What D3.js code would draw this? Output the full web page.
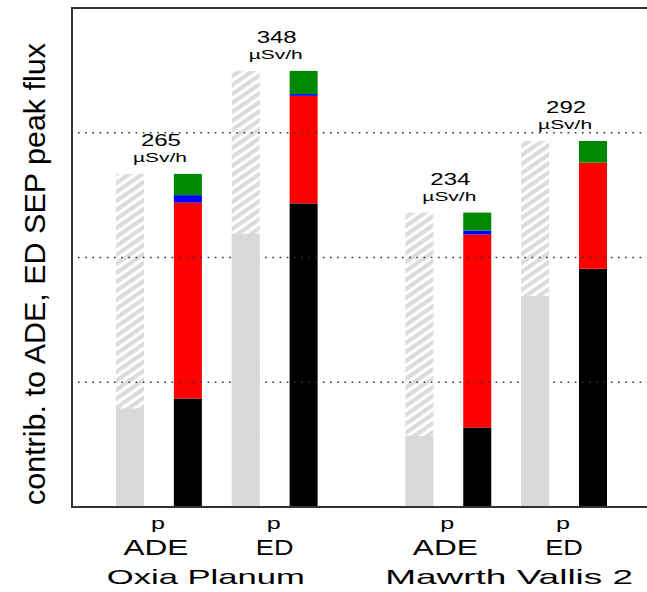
<!DOCTYPE html>
<html><head><meta charset="utf-8">
<script src="https://cdn.jsdelivr.net/npm/d3@7"></script>
<style>
body{margin:0;background:#fff}
svg{display:block}
text{font-family:"Liberation Sans",Arial,Helvetica,sans-serif;fill:#000}
</style>
</head><body>
<svg id="c" width="647" height="592"></svg>
<script>
// ---- data (µSv/h) ----
const sites = ["Oxia Planum", "Mawrth Vallis 2"];
const instruments = ["ADE", "ED"];
const particleLabel = "p";
const peakDose = [265, 348, 234, 292];          // annotated totals
const pPrimary = [79, 219, 57, 169];            // solid grey part of p bar
const pTotal = [267, 349.6, 236, 293.4];        // hatched p bar total
const blackPart = [87, 243.4, 63.8, 191];
const redPart = [157, 86.2, 154.6, 85];
const bluePart = [6, 1.4, 3.2, 0];
const greenPart = [17, 18.6, 14.4, 17.4];
const gridValues = [100, 200, 300];
const yMax = 400;
const yLabel = "contrib. to ADE, ED SEP peak flux";
const unitLabel = "\u00B5Sv/h";

// ---- layout ----
const plotLeft = 72, plotTop = 8, plotBottom = 507, plotRight = 647;
const barW = 28;
const svg = d3.select("#c");

const y = d3.scaleLinear().domain([0, yMax]).range([plotBottom, plotTop]);
const slot = d3.scaleLinear().domain([0, 8]).range([116, 579]); // left edge of slot

const cases = d3.range(4).map(i => ({
  i, site: Math.floor(i / 2), inst: i % 2,
  pSlot: Math.floor(i / 2) * 5 + (i % 2) * 2,
  black: blackPart[i], red: redPart[i], blue: bluePart[i], green: greenPart[i]
}));
cases.forEach(c => {
  c.cSlot = c.pSlot + 1;
  c.center = (slot(c.pSlot) + slot(c.cSlot)) / 2 + barW / 2;
});

const defs = svg.append("defs");
defs.append("pattern").attr("id", "hatch")
  .attr("patternUnits", "userSpaceOnUse")
  .attr("width", 10).attr("height", 7.4)
  .attr("patternTransform", "rotate(-34.6)")
  .append("rect").attr("width", 10).attr("height", 4.2).attr("fill", "#dcdcdc");

// hatched p bars
svg.append("g").selectAll("rect").data(cases).join("rect")
  .attr("x", d => slot(d.pSlot)).attr("width", barW)
  .attr("y", d => y(pTotal[d.i])).attr("height", d => y(0) - y(pTotal[d.i]))
  .attr("fill", "url(#hatch)");

// stacked colour bars
const keys = ["black", "red", "blue", "green"];
const colors = {black: "#000000", red: "#ff0000", blue: "#0000ff", green: "#008800"};
const stacked = d3.stack().keys(keys)(cases);
svg.append("g").selectAll("g").data(stacked).join("g")
  .attr("fill", s => colors[s.key])
  .selectAll("rect").data(s => s).join("rect")
  .attr("x", d => slot(d.data.cSlot)).attr("width", barW)
  .attr("y", d => y(d[1])).attr("height", d => Math.max(0, y(d[0]) - y(d[1])));

// dotted grid lines
svg.append("g").selectAll("line").data(gridValues).join("line")
  .attr("x1", plotLeft + 6).attr("x2", plotRight)
  .attr("y1", d => y(d)).attr("y2", d => y(d))
  .attr("stroke", "#333").attr("stroke-width", 1.6)
  .attr("stroke-dasharray", "1.6,5.6");

// solid grey p parts
svg.append("g").selectAll("rect").data(cases).join("rect")
  .attr("x", d => slot(d.pSlot)).attr("width", barW)
  .attr("y", d => y(pPrimary[d.i])).attr("height", d => y(0) - y(pPrimary[d.i]))
  .attr("fill", "#d9d9d9");

// frame
svg.append("path")
  .attr("d", `M${plotRight},${plotTop}H${plotLeft}V${plotBottom}H${plotRight}`)
  .attr("fill", "none").attr("stroke", "#333").attr("stroke-width", 2);

// annotations
const ann = svg.append("g");
cases.forEach(c => {
  const top = y(pTotal[c.i]);
  ann.append("text").attr("x", c.center + 2).attr("y", top - 28)
    .attr("text-anchor", "middle").attr("font-size", 16)
    .attr("textLength", 40).attr("lengthAdjust", "spacingAndGlyphs")
    .text(peakDose[c.i]);
  ann.append("text").attr("x", c.center + 1).attr("y", top - 12)
    .attr("text-anchor", "middle").attr("font-size", 12)
    .attr("textLength", 54).attr("lengthAdjust", "spacingAndGlyphs")
    .text(unitLabel);
});

// x labels
const xl = svg.append("g");
const instLen = {ADE: 65, ED: 37.6};
const instDx = {ADE: -3, ED: 0};
cases.forEach(c => {
  xl.append("text").attr("x", c.center - 1).attr("y", 529)
    .attr("text-anchor", "middle").attr("font-size", 16)
    .attr("textLength", 14).attr("lengthAdjust", "spacingAndGlyphs")
    .text(particleLabel);
  const nm = instruments[c.inst];
  xl.append("text").attr("x", c.center + instDx[nm]).attr("y", 555)
    .attr("text-anchor", "middle").attr("font-size", 22)
    .attr("textLength", instLen[nm]).attr("lengthAdjust", "spacingAndGlyphs")
    .text(nm);
});
const siteLen = [198, 248];
const siteDx = [-11, 3];
sites.forEach((s, k) => {
  const cs = cases.filter(c => c.site === k);
  const cx = d3.mean(cs, c => c.center) + siteDx[k];
  xl.append("text").attr("x", cx).attr("y", 583.5)
    .attr("text-anchor", "middle").attr("font-size", 21)
    .attr("textLength", siteLen[k]).attr("lengthAdjust", "spacingAndGlyphs")
    .text(s);
});

// y label
svg.append("text")
  .attr("transform", `translate(45,274) rotate(-90)`)
  .attr("text-anchor", "middle").attr("font-size", 30)
  .attr("textLength", 462).attr("lengthAdjust", "spacingAndGlyphs")
  .text(yLabel);
</script>
</body></html>
